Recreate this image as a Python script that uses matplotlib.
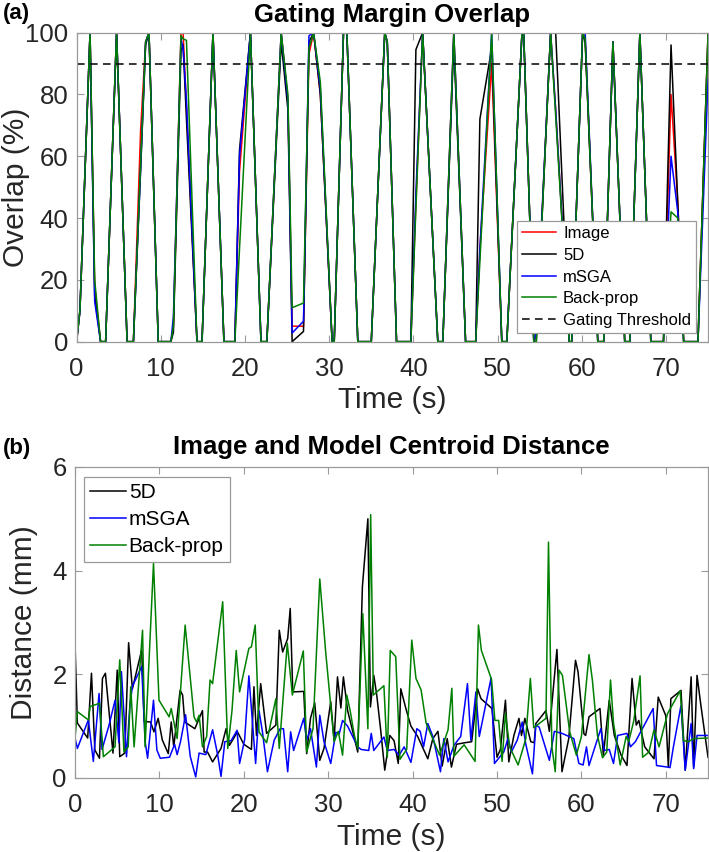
import matplotlib
matplotlib.use("Agg")
import matplotlib.pyplot as plt

plt.rcParams['font.family'] = ['Liberation Sans', 'DejaVu Sans']

# ---------------- (a) Gating margin overlap ----------------
top_time = [0.0, 0.4, 1.6, 2.15, 2.85, 3.45, 4.75, 6.0, 6.75, 7.6, 8.2, 8.6, 9.7, 11.2, 11.5,
            12.4, 12.65, 13.05, 14.3, 14.9, 16.2, 17.5, 18.8, 19.35, 20.65, 21.9, 22.6, 24.3,
            25.1, 25.6, 26.95, 27.6, 28.15, 28.95, 30.35, 30.6, 31.7, 32.1, 33.4, 35.0, 36.6,
            36.9, 38.0, 39.7, 40.3, 41.1, 42.9, 43.5, 44.8, 46.2, 47.4, 47.9, 49.3, 50.5, 51.1,
            52.9, 53.1, 54.3, 54.6, 56.3, 56.9, 58.5, 58.8, 60.1, 60.4, 61.9, 62.6, 63.7, 65.1,
            65.7, 66.9, 68.2, 69.7, 70.6, 71.4, 72.1, 73.8, 75.0]
overlap_image = [0, 10, 100, 18, 0, 0, 100, 0, 0, 68, 97, 100, 0, 0, 5, 100, 100, 76, 0, 0,
                 100, 0, 0, 55, 100, 0, 0, 100, 78, 5, 5, 93, 100, 80, 0, 0, 100, 100, 0, 0,
                 100, 97, 0, 0, 45, 100, 0, 0, 100, 0, 0, 30, 90, 0, 0, 100, 100, 0, 2, 100,
                 75, 0, 0, 100, 98, 0, 0, 97, 0, 0, 100, 0, 0, 80, 45, 0, 0, 100]
overlap_5d = [0, 10, 100, 15, 0, 0, 100, 0, 0, 55, 96, 100, 0, 0, 3, 94, 96, 72, 0, 0,
              100, 0, 0, 62, 100, 0, 0, 97, 75, 0, 3.3, 97, 100, 80, 0, 0, 100, 100, 0, 0,
              100, 97, 0, 0, 94.5, 100, 0, 0, 97, 0, 0, 72, 95, 0, 0, 100, 100, 0, 0, 100,
              100, 0, 0, 100, 97, 0, 0, 97, 0, 0, 100, 0, 0, 96, 45, 0, 0, 100]
overlap_msga = [0, 10, 100, 13, 0, 0, 100, 0, 0, 56, 97, 100, 0, 0, 8, 98, 95, 78, 0, 0,
                100, 0, 0, 60, 100, 0, 0, 100, 78, 2.8, 6.6, 99, 100, 82, 0, 0, 100, 100, 0, 0,
                100, 97, 0, 0, 48, 100, 0, 0, 100, 0, 0, 30, 100, 0, 0, 100, 100, 0, 3, 100,
                75, 0, 0, 100, 100, 0, 0, 97, 0, 0, 100, 0, 0, 60, 42, 0, 0, 85]
overlap_backprop = [0, 10, 100, 20, 0, 0, 100, 0, 0, 57, 97, 100, 0, 0, 5, 99, 98, 97.5, 0, 0,
                    100, 0, 0, 30, 100, 0, 0, 100, 80, 11, 12.5, 95, 100, 84, 0, 0, 100, 100, 0, 0,
                    100, 97, 0, 0, 43, 100, 0, 0, 100, 0, 0, 26, 100, 0, 0, 100, 100, 0, 0, 100,
                    73, 0, 0, 100, 98, 0, 0, 97, 0, 0, 100, 0, 0, 42, 40, 0, 0, 100]
gating_threshold = 90

# ---------------- (b) Centroid distance ----------------
dist_5d_t = [0, 0.28, 1.5, 1.95, 2.35, 2.9, 3.25, 3.6, 4.5, 5.0, 5.3, 5.9, 6.35, 6.8, 7.9, 8.2,
             8.95, 9.35, 9.85, 10.35, 11.05, 11.4, 11.7, 12.45, 12.75, 13.0, 14.2, 15.1, 15.3,
             15.7, 16.3, 17.3, 17.9, 18.3, 19.25, 20.0, 20.9, 21.2, 21.5, 22.0, 22.7, 23.8, 24.2,
             24.6, 25.2, 25.5, 25.8, 27.1, 27.45, 27.9, 28.4, 29.0, 29.5, 30.3, 30.7, 31.1, 31.5,
             31.8, 32.3, 33.5, 34.05, 34.7, 35.0, 35.4, 35.75, 36.2, 36.7, 37.3, 37.8, 38.3, 38.6,
             39.2, 39.8, 40.6, 41.8, 42.4, 43.0, 43.5, 44.1, 44.6, 45.2, 46.2, 47.0, 47.7, 48.1,
             49.4, 50.0, 50.4, 51.0, 51.4, 52.0, 52.6, 52.9, 53.3, 54.0, 54.4, 54.6, 55.8, 56.2,
             57.1, 57.7, 58.5, 59.3, 59.6, 60.3, 60.5, 60.9, 62.2, 62.6, 63.3, 63.9, 64.7, 65.4,
             66.0, 66.5, 66.8, 67.5, 68.6, 69.1, 70.0, 70.3, 70.6, 71.8, 72.3, 73.0, 73.3, 73.7,
             74.1, 75.0]
dist_5d = [2.59, 1.06, 0.77, 2.02, 0.54, 0.38, 1.92, 2.02, 0.48, 2.08, 0.41, 0.48, 2.61, 1.72,
           2.47, 1.09, 1.08, 0.89, 1.15, 0.73, 0.47, 1.08, 0.6, 1.69, 1.6, 1.08, 0.95, 1.3, 0.5,
           0.5, 0.31, 0.57, 0.95, 0.63, 0.89, 0.65, 0.55, 1.76, 0.82, 1.82, 0.86, 1.02, 2.85,
           2.43, 2.69, 3.27, 1.66, 1.67, 0.47, 1.15, 1.45, 0.34, 0.57, 1.47, 0.72, 1.95, 1.35,
           1.95, 1.3, 0.5, 3.69, 5.0, 1.37, 1.98, 1.6, 0.95, 0.15, 0.82, 0.72, 0.28, 1.72,
           1.34, 1.0, 0.8, 0.37, 0.76, 0.9, 0.23, 0.76, 0.21, 0.65, 0.68, 0.7, 1.72, 1.53,
           1.34, 0.4, 0.55, 1.5, 0.31, 0.82, 1.15, 0.82, 1.15, 0.7, 0.68, 1.05, 1.3, 0.9,
           2.48, 0.12, 0.76, 2.27, 2.05, 0.85, 0.82, 1.18, 1.34, 0.44, 1.5, 0.82, 0.44, 0.24,
           1.92, 1.02, 1.11, 0.6, 0.37, 1.56, 1.2, 0.21, 1.53, 1.69, 0.15, 1.95, 0.21, 1.98,
           1.47, 0.4]

dist_msga_t = [0, 0.28, 1.58, 2.17, 2.85, 3.2, 4.0, 4.75, 5.2, 5.5, 6.1, 6.5, 6.8, 7.9, 8.3,
               8.6, 9.3, 9.7, 10.1, 11.2, 11.8, 12.1, 12.5, 13.1, 13.65, 14.3, 14.7, 15.5, 16.3,
               16.9, 17.3, 17.75, 18.5, 19.2, 19.5, 20.1, 20.6, 21.4, 21.8, 22.2, 22.8, 23.6,
               24.3, 24.7, 25.2, 25.55, 25.9, 27.1, 27.45, 27.9, 28.6, 29.0, 29.5, 30.3, 30.9,
               31.3, 31.7, 32.3, 33.5, 33.9, 34.8, 35.1, 35.4, 36.6, 37.0, 37.8, 38.4, 39.0,
               39.8, 40.5, 40.9, 41.3, 41.8, 42.4, 43.3, 43.7, 44.2, 44.9, 45.7, 46.5, 46.9,
               47.5, 47.9, 49.3, 49.7, 50.8, 51.3, 51.7, 52.4, 53.0, 53.4, 54.2, 54.6, 55.0,
               56.2, 56.8, 57.7, 59.1, 59.7, 60.2, 60.6, 60.9, 62.3, 62.7, 63.3, 63.8, 64.3,
               65.4, 65.8, 66.4, 68.5, 68.9, 70.2, 70.5, 70.9, 71.8, 72.3, 73.0, 73.3, 73.7,
               75.0]
dist_msga = [0.77, 0.57, 1.12, 0.32, 1.63, 0.55, 1.0, 1.5, 0.68, 2.05, 0.41, 1.4, 1.77, 2.15,
             0.71, 0.38, 1.5, 0.54, 0.38, 0.4, 0.65, 0.45, 0.7, 1.22, 0.42, 0.02, 0.48, 0.45,
             0.93, 0.45, 0.03, 0.7, 0.72, 0.92, 0.28, 0.74, 1.97, 0.28, 1.3, 0.9, 0.12, 0.73,
             0.95, 0.95, 0.12, 0.89, 0.53, 1.15, 0.73, 0.95, 0.21, 1.21, 0.7, 0.28, 0.88,
             0.85, 1.11, 1.0, 0.6, 0.55, 0.53, 0.86, 0.53, 0.79, 0.53, 0.55, 0.44, 0.6,
             0.3, 0.95, 0.9, 0.6, 1.05, 0.8, 0.12, 0.76, 0.31, 0.63, 0.8, 1.82, 0.73,
             1.66, 0.8, 1.93, 0.28, 0.5, 0.76, 0.5, 0.73, 1.08, 0.66, 0.08, 1.02, 0.98,
             0.34, 0.9, 0.86, 0.76, 0.28, 0.25, 0.6, 0.24, 0.95, 0.53, 0.55, 0.28, 0.82,
             0.86, 0.6, 0.7, 1.34, 0.24, 0.21, 0.2, 0.6, 1.4, 0.15, 1.05, 0.18, 0.82,
             0.82]

dist_bp_t = [0, 0.28, 1.58, 1.8, 2.9, 3.36, 4.74, 5.3, 5.8, 6.3, 6.6, 7.0, 8.0, 8.3, 9.3, 9.95,
             11.15, 11.4, 12.1, 13.05, 14.1, 14.4, 14.7, 15.1, 15.6, 16.0, 16.3, 17.5, 18.1, 18.6,
             19.1, 19.5, 20.6, 20.9, 21.35, 21.8, 22.7, 23.8, 24.2, 25.15, 25.75, 27.05, 27.45,
             28.2, 29.0, 29.7, 30.7, 31.2, 31.7, 32.2, 32.6, 33.1, 33.5, 34.1, 34.7, 35.03,
             35.35, 36.6, 37.0, 37.35, 38.0, 38.5, 39.3, 39.9, 40.4, 41.0, 41.6, 43.2, 44.2,
             44.65, 44.9, 46.1, 47.4, 47.8, 48.15, 49.35, 49.75, 50.2, 50.6, 51.0, 51.5, 52.5,
             53.4, 53.95, 54.35, 55.8, 56.1, 56.5, 56.9, 57.35, 57.75, 58.6, 59.4, 60.0, 60.9,
             61.3, 61.9, 62.5, 63.0, 63.45, 63.8, 64.6, 65.3, 65.6, 66.2, 66.95, 67.25, 68.0,
             68.6, 69.2, 70.2, 71.7, 72.1, 72.7, 73.3, 75.0]
dist_bp = [0.77, 1.28, 1.12, 1.38, 1.44, 0.41, 0.6, 2.28, 0.5, 0.6, 1.76, 0.6, 2.85, 0.6, 4.14,
           1.5, 1.18, 1.34, 0.76, 2.95, 1.18, 1.08, 1.21, 0.6, 0.8, 1.89, 1.82, 3.4, 0.57, 1.3,
           2.46, 1.66, 2.5, 2.53, 2.95, 0.89, 0.68, 1.53, 0.57, 2.6, 1.6, 2.45, 0.5, 0.95,
           3.84, 2.43, 0.7, 0.9, 0.44, 1.6, 1.3, 0.82, 0.57, 3.17, 0.95, 5.08, 1.6, 1.78,
           0.4, 2.46, 2.34, 0.36, 0.55, 2.66, 1.92, 1.7, 1.06, 0.44, 0.93, 1.73, 0.42, 0.64,
           0.32, 2.95, 2.46, 1.9, 1.11, 1.11, 0.32, 1.24, 0.6, 0.25, 0.75, 1.92, 0.97, 1.15,
           4.55, 0.6, 0.12, 2.08, 1.98, 0.9, 0.44, 0.8, 2.38, 1.89, 0.82, 0.39, 0.5, 1.89,
           1.06, 0.25, 0.8, 0.7, 1.1, 1.97, 0.4, 0.5, 0.93, 0.6, 1.24, 1.68, 0.72, 0.7, 0.76,
           0.77]

frame_col = '#9a9a9a'
text_col = '#262626'
C_RED, C_BLACK, C_BLUE, C_GREEN = '#ff0000', '#000000', '#0000ff', '#008000'

fig = plt.figure(figsize=(7.09, 8.52), dpi=100)
ax1 = fig.add_axes([0.108, 0.599, 0.8907, 0.3627])
ax2 = fig.add_axes([0.1058, 0.0869, 0.8928, 0.365])


def style(ax):
    for s in ax.spines.values():
        s.set_color(frame_col)
        s.set_linewidth(0.9)
    ax.tick_params(direction='in', top=True, right=True, length=5, width=0.8,
                   color=frame_col, labelcolor=text_col, labelsize=18.5)
    ax.tick_params(axis='y', pad=6)
    ax.tick_params(axis='x', pad=11)


lw = 1.1
ax1.plot(top_time, overlap_image, color=C_RED, lw=lw, label='Image')
ax1.plot(top_time, overlap_5d, color=C_BLACK, lw=lw, label='5D')
ax1.plot(top_time, overlap_msga, color=C_BLUE, lw=lw, label='mSGA')
ax1.plot(top_time, overlap_backprop, color=C_GREEN, lw=lw, label='Back-prop')
ax1.axhline(gating_threshold, color='black', lw=1.1, ls=(0, (5, 3.5)), label='Gating Threshold')
ax1.set_xlim(0, 75)
ax1.set_ylim(0, 100)
ax1.set_xticks(range(0, 71, 10))
ax1.set_yticks(range(0, 101, 20))
style(ax1)
ax1.set_xlabel('Time (s)', fontsize=21.5, color=text_col, labelpad=4)
ax1.set_ylabel('Overlap (%)', fontsize=21.5, color=text_col)
ax1.yaxis.set_label_coords(-0.073, 0.5)
ax1.set_title('Gating Margin Overlap', fontsize=18.5, fontweight='bold', pad=8)
leg1 = ax1.legend(loc='lower right', bbox_to_anchor=(0.981, 0.028), fontsize=12,
                  handlelength=2.0, handletextpad=0.45, labelspacing=0.4,
                  borderpad=0.3, borderaxespad=0, fancybox=False, framealpha=1)
leg1.get_frame().set_edgecolor(frame_col)
leg1.get_frame().set_linewidth(0.9)

ax2.plot(dist_5d_t, dist_5d, color=C_BLACK, lw=lw, label='5D')
ax2.plot(dist_msga_t, dist_msga, color=C_BLUE, lw=lw, label='mSGA')
ax2.plot(dist_bp_t, dist_bp, color=C_GREEN, lw=lw, label='Back-prop')
ax2.set_xlim(0, 75)
ax2.set_ylim(0, 6)
ax2.set_xticks(range(0, 71, 10))
ax2.set_yticks([0, 2, 4, 6])
style(ax2)
ax2.set_xlabel('Time (s)', fontsize=21.5, color=text_col, labelpad=4)
ax2.set_ylabel('Distance (mm)', fontsize=21.5, color=text_col)
ax2.yaxis.set_label_coords(-0.058, 0.5)
ax2.set_title('Image and Model Centroid Distance', fontsize=18.5, fontweight='bold', pad=9)
leg2 = ax2.legend(loc='upper left', bbox_to_anchor=(0.014, 0.968), fontsize=15,
                  handlelength=1.7, handletextpad=0.15, labelspacing=0.38,
                  borderpad=0.3, borderaxespad=0, fancybox=False, framealpha=1)
leg2.get_frame().set_edgecolor(frame_col)
leg2.get_frame().set_linewidth(0.9)

fig.text(0.004, 0.997, '(a)', fontsize=16, fontweight='bold', va='top', ha='left')
fig.text(0.004, 0.486, '(b)', fontsize=16, fontweight='bold', va='top', ha='left')

fig.savefig('out.png', dpi=100)
